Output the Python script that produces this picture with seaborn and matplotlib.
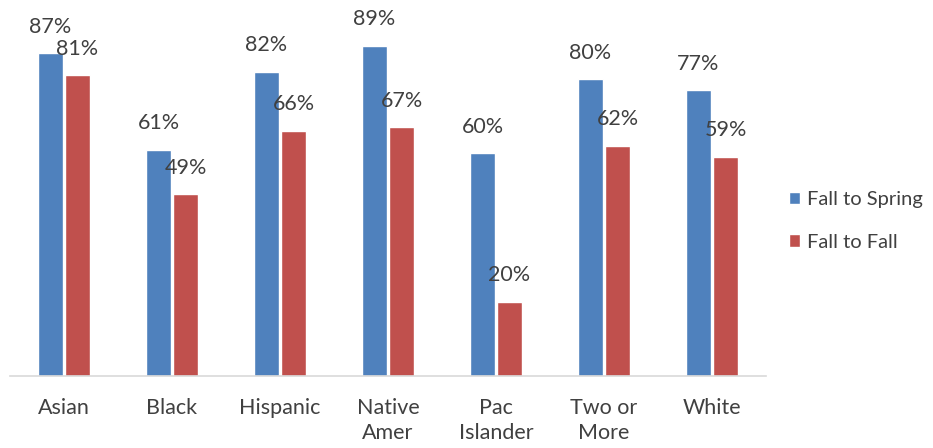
import matplotlib
matplotlib.use("Agg")
import matplotlib.pyplot as plt
import seaborn as sns
import pandas as pd

categories = ["Asian", "Black", "Hispanic", "Native\nAmer", "Pac\nIslander", "Two or\nMore", "White"]
fall_to_spring = [87, 61, 82, 89, 60, 80, 77]
fall_to_fall = [81, 49, 66, 67, 20, 62, 59]
series_names = ["Fall to Spring", "Fall to Fall"]
colors = ["#4F81BD", "#C0504D"]

df = pd.DataFrame({
    "cat": categories * 2,
    "val": fall_to_spring + fall_to_fall,
    "series": [series_names[0]] * len(categories) + [series_names[1]] * len(categories),
})

sns.set_theme(style="white")
plt.rcParams["font.family"] = ["Lato", "DejaVu Sans"]
text_color = "#404040"

fig = plt.figure(figsize=(9.33, 4.48), dpi=100)
ax = fig.add_axes([10 / 933, 72 / 448, 756 / 933, 371 / 448])
sns.barplot(data=df, x="cat", y="val", hue="series", palette=colors,
            width=0.5, gap=0.1, ax=ax, saturation=1, legend=True)

ax.set_ylim(0, 100)
ax.set_xlim(-0.5, len(categories) - 0.5)
for c in ax.containers:
    ax.bar_label(c, labels=[f"{int(v)}%" for v in c.datavalues], padding=12,
                 fontsize=15.5, color=text_color)

ax.set_xlabel("")
ax.set_ylabel("")
ax.set_yticks([])
for s in ["top", "right", "left"]:
    ax.spines[s].set_visible(False)
ax.spines["bottom"].set_color("#D9D9D9")
ax.spines["bottom"].set_linewidth(1.2)
ax.tick_params(axis="x", length=0, pad=16, labelsize=15.5, labelcolor=text_color)
for t in ax.get_xticklabels():
    t.set_linespacing(1.3)
    t.set_verticalalignment("top")

leg = ax.legend(loc="center left", bbox_to_anchor=(771 / 756, (448 - 221 - 72) / 371),
                frameon=False, fontsize=14.5, handlelength=0.55, handleheight=0.55,
                handletextpad=0.35, labelspacing=1.25, borderaxespad=0)
for t in leg.get_texts():
    t.set_color(text_color)

fig.savefig("out.png", dpi=100)
